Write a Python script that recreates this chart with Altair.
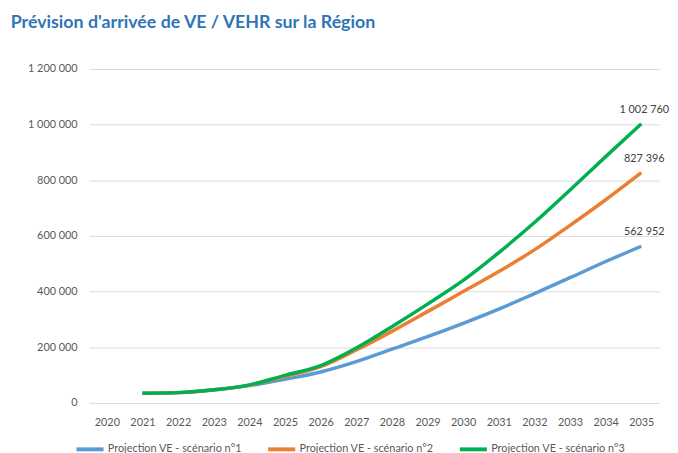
import altair as alt
import pandas as pd

title_text = "Prévision d'arrivée de VE / VEHR sur la Région"
axis_years = list(range(2020, 2036))
years = list(range(2021, 2036))
series = ["Projection VE - scénario n°1", "Projection VE - scénario n°2", "Projection VE - scénario n°3"]
colors = ["#5B9BD5", "#ED7D31", "#00B050"]
s1 = [35000, 37000, 46000, 62000, 85000, 111000, 148000, 193000, 238000, 286000, 337000, 393000, 450000, 508000, 562952]
s2 = [35000, 37000, 47000, 64000, 95000, 130000, 190000, 257000, 328000, 400000, 472000, 550000, 638000, 730000, 827396]
s3 = [35000, 37000, 47000, 65000, 99000, 134000, 197000, 274000, 355000, 440000, 540000, 648000, 765000, 885000, 1002760]
y_ticks = [0, 200000, 400000, 600000, 800000, 1000000, 1200000]

rows = []
for name, vals in zip(series, [s1, s2, s3]):
    for yr, v in zip(years, vals):
        rows.append({"year": yr, "value": v, "series": name})
df = pd.DataFrame(rows)
last = df[df["year"] == years[-1]]

fmt = "replace(replace(format(datum.value, ','), ',', ' '), ',', ' ')"
FONT = "Lato"
GRAY = "#595959"

x = alt.X(
    "year:O",
    scale=alt.Scale(domain=axis_years, type="point", padding=0.5),
    axis=alt.Axis(title=None, labelAngle=0, ticks=False, domain=False, grid=False,
                  labelPadding=14, labelFontSize=11, labelColor=GRAY, labelFont=FONT),
)
y = alt.Y(
    "value:Q",
    scale=alt.Scale(domain=[0, 1200000], nice=False),
    axis=alt.Axis(title=None, values=y_ticks, labelExpr=fmt, ticks=False, domain=False,
                  gridColor="#D9D9D9", gridWidth=1, labelPadding=12, labelFontSize=11,
                  labelColor=GRAY, labelFont=FONT),
)
color = alt.Color(
    "series:N",
    scale=alt.Scale(domain=series, range=colors),
    legend=alt.Legend(title=None, orient="none", legendX=-15, legendY=369,
                      direction="horizontal", columns=3, symbolType="stroke",
                      symbolSize=750, symbolStrokeWidth=4, labelFont=FONT,
                      labelFontSize=11, labelColor=GRAY, columnPadding=18, labelOffset=2),
)

lines = alt.Chart(df).mark_line(strokeWidth=3.5, interpolate="monotone").encode(
    x=x, y=y, color=color
)
labels = alt.Chart(last).transform_calculate(label=fmt).mark_text(
    dy=-9, dx=3, baseline="bottom", align="center", font=FONT, fontSize=11, color="#404040"
).encode(x=x, y=y, text="label:N")

chart = alt.layer(lines, labels).properties(
    width=577,
    height=338,
    autosize=alt.AutoSizeParams(type="none"),
    padding={"left": 82, "top": 59, "right": 11, "bottom": 48},
    background="white",
    title=alt.TitleParams(text=title_text, anchor="start", font=FONT, fontSize=18,
                          fontWeight="bold", color="#2E75B6", dx=-17, offset=31),
).configure_view(stroke=None)

chart.save("out.html", embed_options={"renderer": "svg", "actions": False})
